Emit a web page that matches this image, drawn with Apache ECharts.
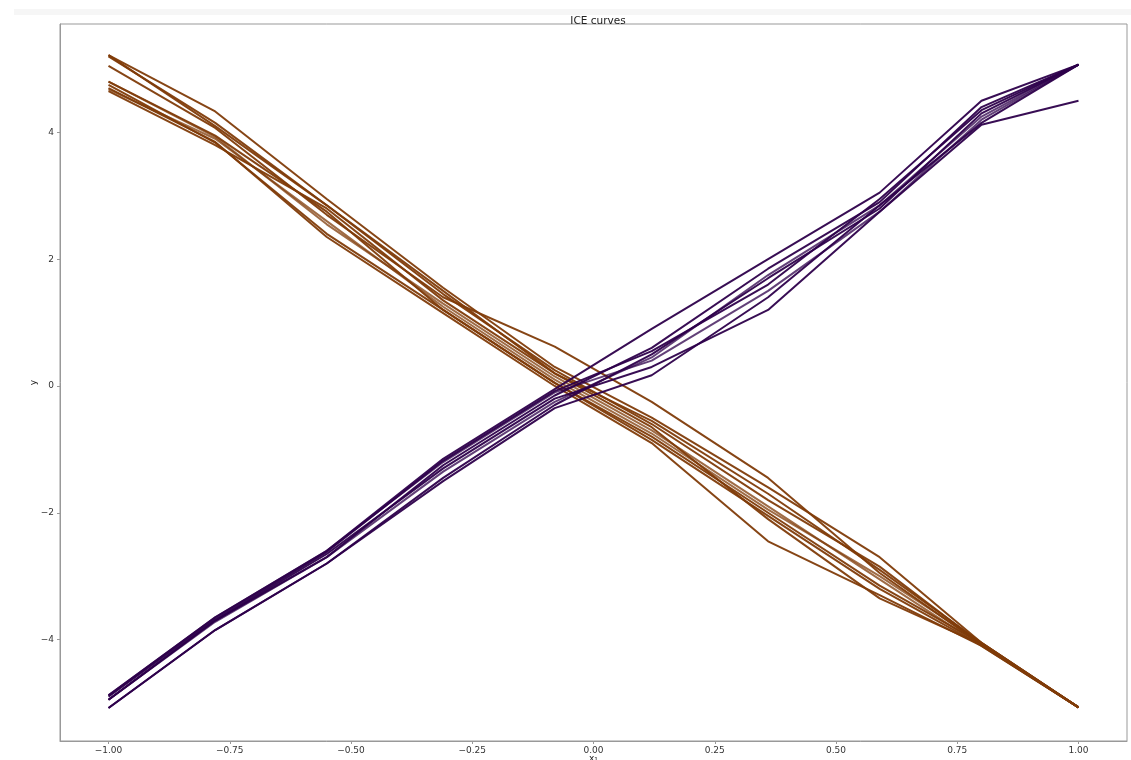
<!DOCTYPE html>
<html>
<head>
<meta charset="utf-8">
<script src="https://cdn.jsdelivr.net/npm/echarts@6/dist/echarts.min.js"></script>
<style>
html,body{margin:0;padding:0;background:#fff;}
#chart{width:1131px;height:760px;}
</style>
</head>
<body>
<div id="chart"></div>
<script>
// grid of feature values (x1)
const xGrid = [-1, -0.78, -0.55, -0.31, -0.08, 0.12, 0.36, 0.59, 0.80, 1.0];

// decreasing ICE curves (brown)
const brown1 = [5.22, 4.33, 2.95, 1.55, 0.30, -0.50, -1.60, -2.70, -4.05, -5.07];
const brown2 = [5.20, 4.15, 2.85, 1.45, 0.25, -0.60, -1.80, -2.85, -4.07, -5.07];
const brown3 = [5.05, 4.07, 2.70, 1.40, 0.62, -0.25, -1.45, -2.95, -4.08, -5.07];
const brown4 = [4.80, 3.93, 2.55, 1.30, 0.15, -0.70, -1.90, -3.05, -4.10, -5.07];
const brown5 = [4.75, 3.84, 2.40, 1.20, 0.05, -0.80, -2.00, -3.15, -4.06, -5.07];
const brown6 = [4.70, 3.85, 2.35, 1.15, 0.00, -0.90, -2.45, -3.30, -4.10, -5.07];
const brown7 = [4.65, 3.80, 2.80, 1.35, 0.20, -0.65, -2.10, -3.35, -4.08, -5.07];
const brown8 = [4.68, 3.90, 2.60, 1.25, 0.10, -0.75, -1.95, -3.00, -4.05, -5.07];
const brown9 = [5.22, 4.10, 2.85, 1.50, 0.20, -0.55, -1.70, -2.90, -4.05, -5.07];
const brown10 = [4.80, 3.95, 2.75, 1.20, 0.05, -0.85, -2.05, -3.20, -4.09, -5.07];

// increasing ICE curves (purple)
const purple1 = [-4.88, -3.65, -2.60, -1.15, -0.05, 0.90, 2.00, 3.05, 4.50, 5.07];
const purple2 = [-4.95, -3.70, -2.70, -1.25, -0.15, 0.60, 1.85, 2.90, 4.40, 5.07];
const purple3 = [-5.08, -3.85, -2.80, -1.45, -0.30, 0.50, 1.70, 2.80, 4.30, 5.07];
const purple4 = [-4.88, -3.65, -2.60, -1.20, -0.10, 0.40, 1.50, 2.75, 4.20, 5.07];
const purple5 = [-4.95, -3.70, -2.65, -1.30, -0.20, 0.30, 1.20, 2.75, 4.12, 4.50];
const purple6 = [-5.08, -3.85, -2.80, -1.50, -0.35, 0.17, 1.40, 2.85, 4.15, 5.07];
const purple7 = [-4.90, -3.68, -2.62, -1.18, -0.08, 0.55, 1.60, 2.95, 4.35, 5.07];
const purple8 = [-4.95, -3.72, -2.70, -1.35, -0.25, 0.45, 1.75, 2.85, 4.25, 5.07];

const xTicks = [-1.0, -0.75, -0.5, -0.25, 0, 0.25, 0.5, 0.75, 1.0];
const yTicks = [-4, -2, 0, 2, 4];

const brownCurves = [brown1, brown2, brown3, brown4, brown5, brown6, brown7, brown8, brown9, brown10];
const purpleCurves = [purple1, purple2, purple3, purple4, purple5, purple6, purple7, purple8];

const BROWN = '#7f3b08';
const PURPLE = '#2d004b';

function mk(vals, color, i) {
  return {
    type: 'line',
    data: xGrid.map((x, k) => [x, vals[k]]),
    symbol: 'none',
    silent: true,
    animation: false,
    lineStyle: { color: color, width: 2, opacity: (i % 4 === 3) ? 0.75 : 0.95 }
  };
}

const series = [];
brownCurves.forEach((c, i) => series.push(mk(c, BROWN, i)));
purpleCurves.forEach((c, i) => series.push(mk(c, PURPLE, i)));

const minus = s => s.replace('-', '\u2212');

const chart = echarts.init(document.getElementById('chart'), null, { renderer: 'canvas' });
chart.setOption({
  backgroundColor: '#fff',
  animation: false,
  title: {
    text: 'ICE curves',
    left: 593, top: 11, textAlign: 'center',
    textStyle: { fontFamily: 'DejaVu Sans', fontSize: 10.5, fontWeight: 'normal', color: '#222' }
  },
  graphic: [{
    type: 'rect', left: 14, top: 9, shape: { width: 1117, height: 6 },
    style: { fill: '#f6f6f6' }, silent: true, z: -1
  }],
  grid: {
    left: 60, right: 4, top: 24, bottom: 19,
    outerBoundsMode: 'none', containLabel: false,
    show: true, borderColor: '#999', borderWidth: 1, backgroundColor: '#fff'
  },
  xAxis: {
    type: 'value', min: -1.1, max: 1.1,
    name: 'x\u2081', nameLocation: 'middle', nameGap: 13, nameMoveOverlap: false,
    nameTextStyle: { fontFamily: 'DejaVu Sans', fontSize: 9, color: '#222', verticalAlign: 'top' },
    axisLine: { show: true, onZero: false, lineStyle: { color: '#999' } },
    axisTick: { show: true, customValues: xTicks, length: 3, lineStyle: { color: '#999' } },
    axisLabel: {
      customValues: xTicks, margin: 5,
      fontFamily: 'DejaVu Sans', fontSize: 9, color: '#333',
      formatter: v => minus(v.toFixed(2))
    },
    splitLine: { show: false }
  },
  yAxis: {
    type: 'value', min: -5.60, max: 5.71,
    name: 'y', nameLocation: 'middle', nameGap: 22, nameRotate: 90, nameMoveOverlap: false,
    nameTextStyle: { fontFamily: 'DejaVu Sans', fontSize: 9, color: '#222' },
    axisLine: { show: true, onZero: false, lineStyle: { color: '#999' } },
    axisTick: { show: true, customValues: yTicks, length: 3, lineStyle: { color: '#999' } },
    axisLabel: {
      customValues: yTicks, margin: 6,
      fontFamily: 'DejaVu Sans', fontSize: 9, color: '#333',
      formatter: v => minus(String(v))
    },
    splitLine: { show: false }
  },
  series: series
});
</script>
</body>
</html>
